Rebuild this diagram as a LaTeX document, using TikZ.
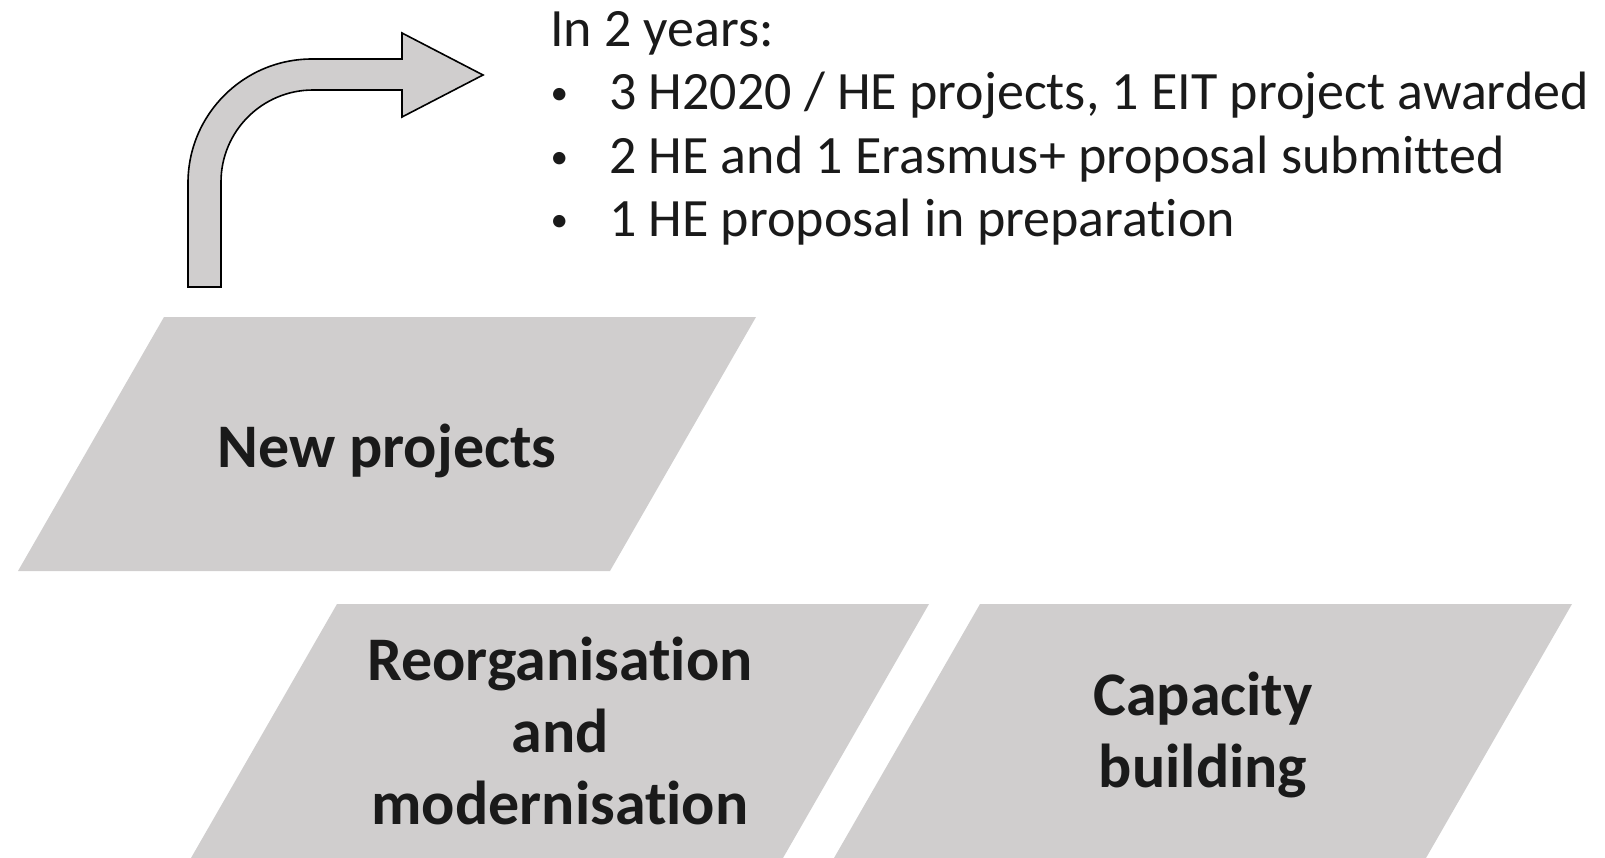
\documentclass[tikz,border=0pt]{standalone}
\usepackage{fontspec}
\setmainfont{Carlito}[Ligatures=NoCommon]
\usepackage{graphicx}
\usepackage{tikz}

\definecolor{boxgray}{HTML}{D0CECE}
\definecolor{textblack}{HTML}{1A1A1A}

\newcommand{\listbullet}{\llap{\raisebox{5bp}{\scalebox{0.65}{\textbullet}}\hspace{41bp}}}

\begin{document}
\begin{tikzpicture}[x=1bp, y=-1bp,
			boxfill/.style={fill=boxgray},
			boxtext/.style={inner sep=0pt, text=textblack, align=center, font=\fontsize{62bp}{71.6bp}\selectfont\bfseries},
			listtext/.style={anchor=base west, inner sep=0pt, text=textblack, font=\fontsize{54bp}{63.5bp}\selectfont},
			bentarrow/.style={draw=black, fill=boxgray, line width=1.6bp, line join=miter},
		]
		
			\useasboundingbox (0,0) rectangle (1605,857);
		
			%Boxes
			\coordinate (c1) at (387,444);
			\coordinate (c2) at (560,731);
			\coordinate (c3) at (1203,731);
			\foreach \c in {c1,c2,c3}
				\fill[boxfill] ([shift={(-223,-127)}]\c) -- ++(592,0) -- ++(-146,254) -- ++(-592,0) -- cycle;
		
			\node[boxtext]	(newproj)	at (387,451)	{New projects};
			\node[boxtext]	(reorg)		at (560,731)	{Reorganisation\\and\\modernisation};
			\node[boxtext]	(capacity)	at (1203,735)	{Capacity\\building};
		
			%Results
			\node[listtext]	(years)	at (550,46)		{In 2 years:};
			\node[listtext]	(item1)	at (609,109.5)	{\listbullet 3 H2020 / HE projects, 1 EIT project awarded};
			\node[listtext]	(item2)	at (609,173)	{\listbullet 2 HE and 1 Erasmus+ proposal submitted};
			\node[listtext]	(item3)	at (609,236.5)	{\listbullet 1 HE proposal in preparation};
		
			%Arrow
			\draw[bentarrow] (188,287) -- (188,183) arc[start angle=180, end angle=270, radius=124]
				-- (402,59) -- (402,33) -- (483,75) -- (402,117) -- (402,90) -- (313,90)
				arc[start angle=270, end angle=180, radius=92] -- (221,287) -- cycle;
		
		\end{tikzpicture}
\end{document}
